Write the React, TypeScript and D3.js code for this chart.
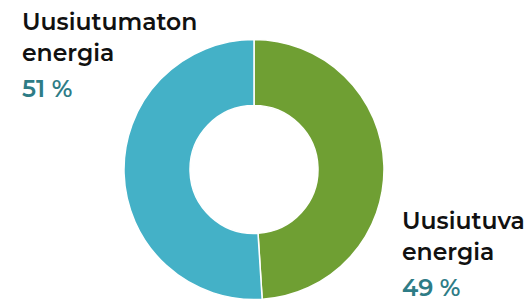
import React from "react";
import * as d3 from "d3";

const categories = ["Uusiutuva energia", "Uusiutumaton energia"];
const values = [49, 51];
const colors = ["#6f9f33", "#44b1c7"];
const labelLines = [["Uusiutuva", "energia"], ["Uusiutumaton", "energia"]];
const percentLabels = ["49 %", "51 %"];

const W = 532;
const H = 300;

export default function App() {
  const cx = 254;
  const cy = 169.5;
  const outerR = 130;
  const innerR = 64;
  const pie = d3.pie<number>().sort(null).value((d) => d);
  const arcs = pie(values);
  const arc = d3.arc<d3.PieArcDatum<number>>().innerRadius(innerR).outerRadius(outerR);
  const labelPos = [
    { x: 402, y: 229 },
    { x: 22, y: 30 },
  ];
  const font = "Montserrat, 'Open Sans', 'DejaVu Sans', sans-serif";
  return (
    <svg width={W} height={H} style={{ position: "absolute", left: 0, top: 0 }}>
      <g transform={`translate(${cx},${cy})`}>
        {arcs.map((a, i) => (
          <path key={categories[i]} d={arc(a) || ""} fill={colors[i]} stroke="#fff" strokeWidth={1.5} />
        ))}
      </g>
      {labelPos.map((p, i) => (
        <g key={i} fontFamily={font}>
          {labelLines[i].map((t, j) => (
            <text key={j} x={p.x} y={p.y + j * 31} fontSize={23.5} fontWeight={600} fill="#111">
              {t}
            </text>
          ))}
          <text x={p.x} y={p.y + 67} fontSize={24} fontWeight={600} fill="#2e7c86">
            {percentLabels[i]}
          </text>
        </g>
      ))}
    </svg>
  );
}
